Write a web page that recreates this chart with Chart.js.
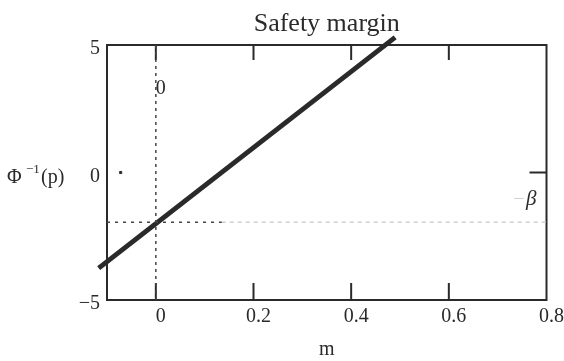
<!DOCTYPE html>
<html lang="en">
<head>
  <meta charset="UTF-8">
  <title>Safety margin</title>
  <script src="https://cdn.jsdelivr.net/npm/chart.js"></script>
  <style>
    html, body { margin: 0; padding: 0; background: #fff; }
    #wrap { width: 564px; height: 361px; }
  </style>
</head>
<body>
  <div id="wrap"><canvas id="marginChart"></canvas></div>
  <script>
    const xRange = [-0.1, 0.8];
    const yRange = [-5, 5];
    const xTicks = [0, 0.2, 0.4, 0.6, 0.8];
    const yTicks = [-5, 0, 5];
    const beta = 1.95;
    // safety margin line (end points)
    const marginX = [-0.117, 0.49];
    const marginY = [-3.75, 5.3];
    // -beta reference line, dark part then faded part
    const betaDarkX = [-0.1, 0.135];
    const betaLightX = [0.135, 0.8];
    const zeroLineY = [-5, 5];
    const strayPoint = [-0.072, 0];

    const serif = "'Liberation Serif', 'Times New Roman', serif";
    const ink = '#2a2a2a';

    const toPts = (xs, ys) => xs.map((x, i) => ({ x, y: ys[i] }));

    // frame round the plot with short inward ticks
    const framePlugin = {
      id: 'frame',
      beforeDatasetsDraw(chart) {
        const { ctx, chartArea: a, scales: { x, y } } = chart;
        ctx.save();
        ctx.strokeStyle = ink;
        ctx.lineWidth = 2;
        ctx.strokeRect(a.left, a.top, a.right - a.left, a.bottom - a.top);
        ctx.beginPath();
        xTicks.slice(0, -1).forEach(v => {
          const px = x.getPixelForValue(v);
          ctx.moveTo(px, a.bottom); ctx.lineTo(px, a.bottom - 17);
          ctx.moveTo(px, a.top); ctx.lineTo(px, a.top + 15);
        });
        const py = y.getPixelForValue(0);
        ctx.moveTo(a.right, py); ctx.lineTo(a.right - 17, py);
        ctx.stroke();
        ctx.restore();
      },
      afterDatasetsDraw(chart) {
        const { ctx, chartArea: a, scales: { x, y } } = chart;
        ctx.save();
        ctx.textBaseline = 'middle';
        ctx.textAlign = 'center';
        ctx.fillStyle = ink;
        ctx.font = '20px ' + serif;
        ctx.fillText('0', x.getPixelForValue(0) + 5, y.getPixelForValue(3.3));
        // -β label near the right edge
        const by = y.getPixelForValue(-beta) - 23;
        ctx.textAlign = 'right';
        ctx.font = 'italic 21px ' + serif;
        ctx.fillText('β', a.right - 10, by);
        ctx.fillStyle = '#cfcfcf';
        ctx.font = '20px ' + serif;
        ctx.fillText('−', a.right - 22, by + 1);
        ctx.restore();
      },
      afterDraw(chart) {
        // horizontal y-axis title with a raised -1
        const { ctx, scales: { y } } = chart;
        const py = y.getPixelForValue(0) + 5;
        ctx.save();
        ctx.fillStyle = ink;
        ctx.textBaseline = 'middle';
        ctx.textAlign = 'left';
        ctx.font = '20px ' + serif;
        ctx.fillText('Φ', 7, py);
        ctx.font = '13px ' + serif;
        ctx.fillText('−1', 26, py - 8);
        ctx.font = '20px ' + serif;
        ctx.fillText('(p)', 41, py);
        ctx.restore();
      }
    };

    new Chart(document.getElementById('marginChart'), {
      type: 'scatter',
      data: {
        datasets: [
          { data: toPts([0, 0], zeroLineY), showLine: true, borderColor: '#444', borderWidth: 1.5, borderDash: [3, 4], pointRadius: 0 },
          { data: toPts(betaDarkX, [-beta, -beta]), showLine: true, borderColor: '#444', borderWidth: 1.5, borderDash: [3, 5], pointRadius: 0 },
          { data: toPts(betaLightX, [-beta, -beta]), showLine: true, borderColor: '#d0d0d0', borderWidth: 1.5, borderDash: [4, 4], pointRadius: 0 },
          { data: [{ x: strayPoint[0], y: strayPoint[1] }], pointStyle: 'rect', pointRadius: 1.5, backgroundColor: ink, borderColor: ink },
          { data: toPts(marginX, marginY), showLine: true, borderColor: ink, borderWidth: 5, pointRadius: 0, clip: false, borderCapStyle: 'butt' }
        ]
      },
      options: {
        responsive: true,
        maintainAspectRatio: false,
        animation: false,
        layout: { padding: { top: 0, left: 0, right: 17, bottom: 0 } },
        plugins: {
          legend: { display: false },
          tooltip: { enabled: false },
          title: {
            display: true, text: 'Safety margin', fullSize: false, color: ink,
            font: { family: serif, size: 26, weight: 'normal', lineHeight: 1.2 },
            padding: { top: 9, bottom: 4.8 }
          }
        },
        scales: {
          x: {
            type: 'linear', min: xRange[0], max: xRange[1],
            afterBuildTicks: s => { s.ticks = xTicks.map(v => ({ value: v })); },
            afterFit: s => { s.height = 61; },
            grid: { display: false, drawTicks: false },
            border: { display: false },
            ticks: { color: ink, font: { family: serif, size: 20 }, padding: 5, labelOffset: 5, maxRotation: 0, callback: v => String(v) },
            title: { display: true, text: 'm', color: ink, font: { family: serif, size: 20, lineHeight: 1 }, padding: { top: 0, bottom: 1 } }
          },
          y: {
            type: 'linear', min: yRange[0], max: yRange[1],
            afterBuildTicks: s => { s.ticks = yTicks.map(v => ({ value: v })); },
            afterFit: s => { s.width = 107; },
            grid: { display: false, drawTicks: false },
            border: { display: false },
            ticks: { color: ink, font: { family: serif, size: 20 }, padding: 7, labelOffset: 4, callback: v => (v < 0 ? '−' + Math.abs(v) : String(v)) }
          }
        }
      },
      plugins: [framePlugin]
    });
  </script>
</body>
</html>
